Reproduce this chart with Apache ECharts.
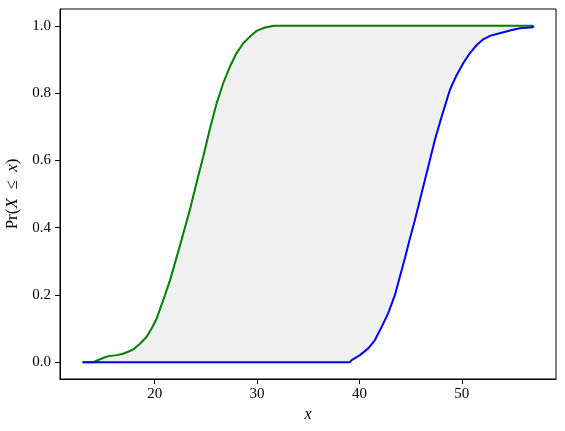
<!DOCTYPE html>
<html>
<head>
<meta charset="utf-8">
<script src="https://cdn.jsdelivr.net/npm/echarts@6/dist/echarts.min.js"></script>
<style>
html,body{margin:0;padding:0;background:#fff;}
#c{width:565px;height:431px;}
</style>
</head>
<body>
<div id="c"></div>
<script>
// Lower-x CDF (green)
var greenX = [12.95,14.0,14.0,14.6,15.0,15.5,16.3,16.9,17.4,17.9,18.56,19.2,19.7,20.2,20.84,21.5,22.15,22.8,23.45,24.1,24.75,25.4,26.05,26.7,27.35,28.0,28.65,29.3,29.96,30.77,31.65,57.0];
var greenY = [0,0,0.005,0.008,0.013,0.018,0.021,0.025,0.031,0.038,0.055,0.075,0.1,0.13,0.185,0.244,0.313,0.383,0.455,0.535,0.612,0.695,0.77,0.83,0.879,0.919,0.948,0.968,0.985,0.995,1.0,1.0];
// Upper-x CDF (blue)
var blueX = [12.95,39.07,39.24,40.05,40.86,41.5,42.17,42.8,43.47,43.95,44.44,44.93,45.42,46.07,46.72,47.37,48.03,48.84,49.5,50.14,50.8,51.45,52.1,52.75,53.7,54.7,55.68,56.95,57.0];
var blueY = [0,0,0.006,0.021,0.041,0.065,0.105,0.145,0.2,0.254,0.309,0.368,0.423,0.502,0.581,0.661,0.73,0.81,0.854,0.889,0.919,0.943,0.96,0.97,0.978,0.986,0.993,0.996,1.0];
var xTicks = [20,30,40,50];
var yTicks = [0,0.2,0.4,0.6,0.8,1.0];

function pairs(xs, ys){ return xs.map(function(x,i){ return [x, ys[i]]; }); }
var green = pairs(greenX, greenY);
var blue = pairs(blueX, blueY);

var font = 'Liberation Serif';
var chart = echarts.init(document.getElementById('c'), null, {renderer:'canvas'});
chart.setOption({
  animation:false,
  backgroundColor:'#fff',
  grid:{left:60, right:9, top:9, bottom:52, show:true, borderColor:'#000', borderWidth:1, backgroundColor:'transparent', containLabel:false, outerBoundsMode:'none'},
  xAxis:{
    type:'value', min:10.75, max:59.2,
    axisLine:{show:true, onZero:false, lineStyle:{color:'#000', width:1}},
    axisTick:{show:true, inside:false, length:5, customValues:xTicks, lineStyle:{color:'#000'}},
    axisLabel:{customValues:xTicks, margin:8, color:'#000', fontFamily:font, fontSize:15},
    splitLine:{show:false},
    name:'x', nameLocation:'middle', nameGap:27,
    nameTextStyle:{fontFamily:font, fontStyle:'italic', fontSize:16, color:'#000'}
  },
  yAxis:{
    type:'value', min:-0.05, max:1.05,
    axisLine:{show:true, onZero:false, lineStyle:{color:'#000', width:1}},
    axisTick:{show:true, inside:false, length:5, customValues:yTicks, lineStyle:{color:'#000'}},
    axisLabel:{customValues:yTicks, margin:9, color:'#000', fontFamily:font, fontSize:15,
      formatter:function(v){ return v.toFixed(1); }},
    splitLine:{show:false},
    name:'{r|Pr(}{i|X}{r|  ≤  }{i|x}{r|)}', nameLocation:'middle', nameGap:30, nameRotate:90,
    nameTextStyle:{color:'#000', fontSize:17, fontFamily:font,
      rich:{r:{fontFamily:font, fontSize:17, color:'#000'}, i:{fontFamily:font, fontStyle:'italic', fontSize:17, color:'#000'}}}
  },
  series:[
    {type:'custom', coordinateSystem:'cartesian2d', silent:true, z:1,
      data:[[greenX[0], greenY[0]]],
      renderItem:function(params, api){
        var pts = [];
        for (var i=0;i<greenX.length;i++) pts.push(api.coord([greenX[i], greenY[i]]));
        for (var j=blueX.length-1;j>=0;j--) pts.push(api.coord([blueX[j], blueY[j]]));
        return {type:'polygon', shape:{points:pts}, style:{fill:'#f0f0f0', stroke:null}};
      }},
    {type:'line', data:green, symbol:'none', lineStyle:{width:2, color:'#008000'}, z:2},
    {type:'line', data:blue, symbol:'none', lineStyle:{width:2, color:'#0000ff'}, z:2}
  ]
});
</script>
</body>
</html>
